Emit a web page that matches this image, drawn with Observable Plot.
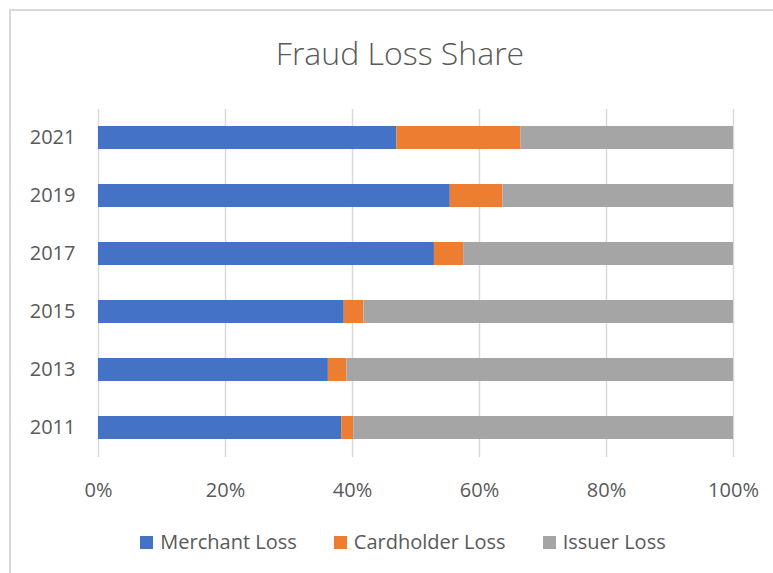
<!DOCTYPE html>
<html><head><meta charset="utf-8">
<script src="https://cdn.jsdelivr.net/npm/d3@7"></script>
<script src="https://cdn.jsdelivr.net/npm/@observablehq/plot@0.6"></script>
<style>
body{margin:0;background:#fff;}
#chart{position:relative;width:773px;height:573px;overflow:hidden;font-family:"Open Sans",sans-serif;color:#595959;background:#fff;}
#frame{position:absolute;left:9px;top:9px;width:820px;height:620px;border:2px solid #d9d9d9;box-sizing:border-box;}
#title{position:absolute;left:0;top:30px;width:800px;text-align:center;font-size:32px;font-weight:300;line-height:46px;color:#595959;}
#plot{position:absolute;left:0;top:0;}
#legend{position:absolute;left:0;top:529px;width:806px;display:flex;justify-content:center;gap:37px;font-size:20px;line-height:26px;color:#595959;}
#legend .item{display:flex;align-items:center;gap:7px;}
#legend .sw{width:13px;height:13px;display:inline-block;}
</style>
</head><body>
<div id="chart">
  <div id="frame"></div>
  <div id="title">Fraud Loss Share</div>
  <div id="plot"></div>
  <div id="legend"></div>
</div>
<script>
const years = ["2011","2013","2015","2017","2019","2021"];
const seriesNames = ["Merchant Loss","Cardholder Loss","Issuer Loss"];
const merchant = [38.3,36.2,38.7,52.9,55.4,47.0];
const cardholder = [1.9,2.9,3.1,4.6,8.3,19.5];
const issuer = [59.8,60.9,58.2,42.5,36.3,33.5];
const colors = ["#4472C4","#ED7D31","#A5A5A5"];
const xTicks = [0,20,40,60,80,100];

const seriesValues = [merchant, cardholder, issuer];
const rows = [];
years.forEach((y, i) => {
  seriesNames.forEach((s, j) => rows.push({year: y, series: s, value: seriesValues[j][i]}));
});

const chart = Plot.plot({
  width: 773,
  height: 510,
  marginLeft: 98,
  marginRight: 40,
  marginTop: 109,
  marginBottom: 53,
  style: {fontFamily: "'Open Sans', sans-serif", fontSize: "20px", color: "#595959", background: "transparent", overflow: "visible"},
  x: {domain: [0, 100]},
  y: {domain: years.slice().reverse(), paddingInner: 0.6, paddingOuter: 0.3},
  color: {domain: seriesNames, range: colors},
  marks: [
    Plot.ruleX(xTicks, {stroke: "#d9d9d9", strokeWidth: 1.5}),
    Plot.barX(rows, Plot.stackX({x: "value", y: "year", fill: "series", order: seriesNames})),
    Plot.axisX({ticks: xTicks, tickSize: 0, tickPadding: 25, tickFormat: d => d + "%", fontSize: 20, fill: "#595959", label: null}),
    Plot.axisY({tickSize: 0, tickPadding: 23, fontSize: 20, fill: "#595959", label: null})
  ]
});
document.getElementById("plot").appendChild(chart);

const legend = document.getElementById("legend");
seriesNames.forEach((s, i) => {
  const it = document.createElement("div");
  it.className = "item";
  const sw = document.createElement("span");
  sw.className = "sw";
  sw.style.background = colors[i];
  const tx = document.createElement("span");
  tx.textContent = s;
  it.appendChild(sw); it.appendChild(tx);
  legend.appendChild(it);
});
</script>
</body></html>
